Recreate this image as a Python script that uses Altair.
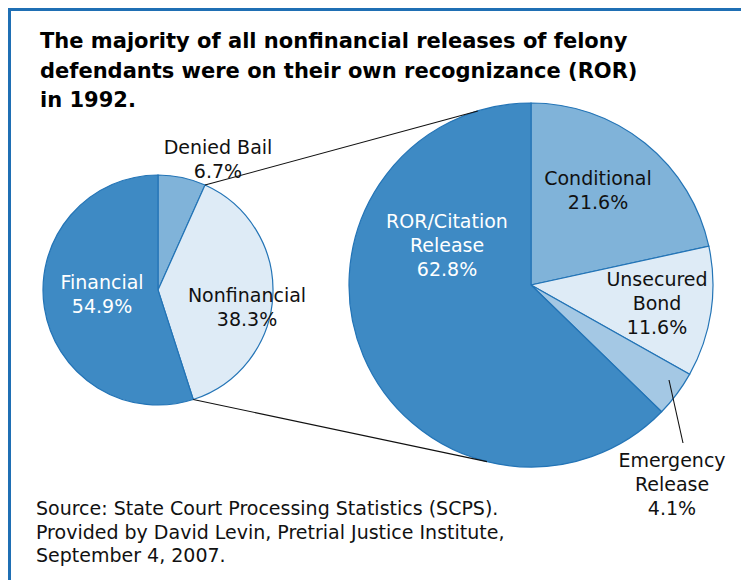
import math
import altair as alt
import pandas as pd

# ---------------- data ----------------
title_lines = [
    "The majority of all nonfinancial releases of felony",
    "defendants were on their own recognizance (ROR)",
    "in 1992.",
]
source_lines = [
    "Source: State Court Processing Statistics (SCPS).",
    "Provided by David Levin, Pretrial Justice Institute,",
    "September 4, 2007.",
]

left_cats = ["Denied Bail", "Nonfinancial", "Financial"]
left_vals = [6.7, 38.3, 54.9]

right_cats = ["Conditional", "Unsecured Bond", "Emergency Release", "ROR/Citation Release"]
right_vals = [21.6, 11.6, 4.1, 62.8]

# ---------------- layout / style ----------------
FONT = "DejaVu Sans, Liberation Sans, Arial, sans-serif"
W, H = 733, 572
OFF = 8  # page margin; coordinates below are in page pixels

left_display = ["Denied Bail", "Nonfinancial", "Financial"]
right_display = ["Conditional", "Unsecured\nBond", "Emergency\nRelease", "ROR/Citation\nRelease"]
left_colors = ["#80b3d9", "#deebf6", "#3e8ac4"]
right_colors = ["#80b3d9", "#deebf6", "#a4c8e4", "#3e8ac4"]
left_text_colors = ["#111111", "#111111", "#ffffff"]
right_text_colors = ["#111111", "#111111", "#111111", "#ffffff"]
# centre of the first line of each label
left_label_pos = [(218, 148), (247, 296), (102, 283)]
right_label_pos = [(598, 179), (657, 280), (672, 461), (447, 222)]

L_CX, L_CY, L_R = 158, 290, 115
R_CX, R_CY, R_R = 531, 285, 182
STROKE = "#2374b6"

xs = alt.Scale(domain=[OFF, OFF + W], range=[0, W])
ys = alt.Scale(domain=[OFF, OFF + H], range=[0, H])

# ---------------- pies ----------------
left_df = pd.DataFrame({
    "cat": left_cats, "val": left_vals, "idx": list(range(len(left_cats))),
    "col": left_colors,
})
right_df = pd.DataFrame({
    "cat": right_cats, "val": right_vals, "idx": list(range(len(right_cats))),
    "col": right_colors,
})


def pie(df, cx, cy, r):
    return alt.Chart(df).mark_arc(
        x=cx - OFF, y=cy - OFF, radius=r, stroke=STROKE, strokeWidth=1.2
    ).encode(
        theta=alt.Theta("val:Q", stack=True),
        order=alt.Order("idx:Q"),
        color=alt.Color("col:N", scale=None),
    )


left_pie = pie(left_df, L_CX, L_CY, L_R)
right_pie = pie(right_df, R_CX, R_CY, R_R)

# ---------------- labels ----------------
def fmt(v):
    return f"{v:.1f}%"

lab_rows = []
for d, v, c, (x, y) in zip(left_display, left_vals, left_text_colors, left_label_pos):
    lab_rows.append({"t": d + "\n" + fmt(v), "x": x, "y": y, "c": c})
for d, v, c, (x, y) in zip(right_display, right_vals, right_text_colors, right_label_pos):
    lab_rows.append({"t": d + "\n" + fmt(v), "x": x, "y": y, "c": c})
lab_df = pd.DataFrame(lab_rows)

labels = alt.Chart(lab_df).mark_text(
    font=FONT, fontSize=19, lineHeight=24, lineBreak="\n",
    align="center", baseline="middle",
).encode(
    x=alt.X("x:Q", scale=xs, axis=None),
    y=alt.Y("y:Q", scale=ys, axis=None),
    text="t:N",
    color=alt.Color("c:N", scale=None),
)

# ---------------- connector lines ----------------
def boundary(cx, cy, r, frac):
    a = 2 * math.pi * frac
    return cx + r * math.sin(a), cy - r * math.cos(a)

tot_l = sum(left_vals)
p1 = boundary(L_CX, L_CY, L_R, left_vals[0] / tot_l)
p2 = boundary(L_CX, L_CY, L_R, (left_vals[0] + left_vals[1]) / tot_l)
q1 = boundary(R_CX, R_CY, R_R, 343 / 360)
q2 = boundary(R_CX, R_CY, R_R, 194 / 360)

line_df = pd.DataFrame([
    {"x": p1[0], "y": p1[1], "x2": q1[0], "y2": q1[1]},
    {"x": p2[0], "y": p2[1], "x2": q2[0], "y2": q2[1]},
    {"x": 669, "y": 380, "x2": 683, "y2": 443},
])
lines = alt.Chart(line_df).mark_rule(color="#111111", strokeWidth=1.1).encode(
    x=alt.X("x:Q", scale=xs, axis=None),
    y=alt.Y("y:Q", scale=ys, axis=None),
    x2="x2:Q", y2="y2:Q",
)

# ---------------- frame ----------------
frame_df = pd.DataFrame([
    {"x": OFF, "y": OFF + 1.5, "x2": OFF + W, "y2": OFF + 1.5},
    {"x": OFF + 1.5, "y": OFF, "x2": OFF + 1.5, "y2": OFF + H},
])
frame = alt.Chart(frame_df).mark_rule(color="#1f6fb4", strokeWidth=3).encode(
    x=alt.X("x:Q", scale=xs, axis=None),
    y=alt.Y("y:Q", scale=ys, axis=None),
    x2="x2:Q", y2="y2:Q",
)

# ---------------- title and source ----------------
title_df = pd.DataFrame({"t": title_lines, "x": [40] * 3, "y": [48, 77.5, 107]})
title = alt.Chart(title_df).mark_text(
    font=FONT, fontSize=21, fontWeight="bold", align="left", baseline="alphabetic",
    color="#000000",
).encode(
    x=alt.X("x:Q", scale=xs, axis=None),
    y=alt.Y("y:Q", scale=ys, axis=None),
    text="t:N",
)

source_df = pd.DataFrame({"t": source_lines, "x": [36] * 3, "y": [515, 538.5, 562]})
source = alt.Chart(source_df).mark_text(
    font=FONT, fontSize=19, align="left", baseline="alphabetic", color="#111111",
).encode(
    x=alt.X("x:Q", scale=xs, axis=None),
    y=alt.Y("y:Q", scale=ys, axis=None),
    text="t:N",
)

chart = alt.layer(
    left_pie, right_pie, lines, labels, title, source, frame
).resolve_scale(theta="independent").properties(
    width=W, height=H, autosize=alt.AutoSizeParams(type="none"), padding=0,
    background="white",
).configure_view(strokeWidth=0)

chart.save("out.html", embed_options={"renderer": "svg", "actions": False})
